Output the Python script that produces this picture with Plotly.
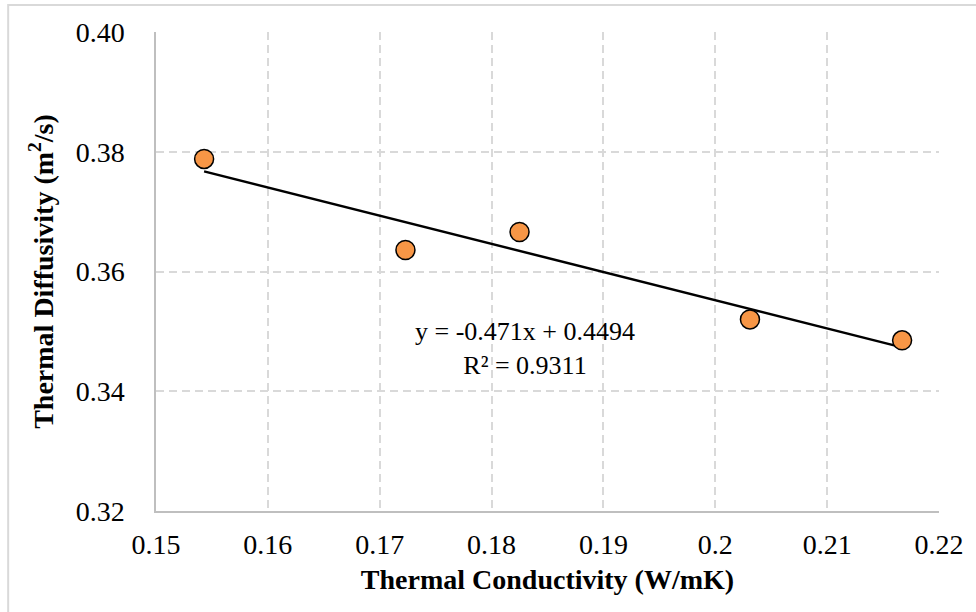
import plotly.graph_objects as go

# Data
conductivity = [0.1543, 0.1723, 0.1825, 0.2031, 0.2167]
diffusivity = [0.3788, 0.3636, 0.3666, 0.3520, 0.3485]
slope = -0.471
intercept = 0.4494
r_squared = 0.9311
x_ticks = [0.15, 0.16, 0.17, 0.18, 0.19, 0.20, 0.21, 0.22]
x_tick_labels = ["0.15", "0.16", "0.17", "0.18", "0.19", "0.2", "0.21", "0.22"]
y_ticks = [0.32, 0.34, 0.36, 0.38, 0.40]
y_tick_labels = ["0.32", "0.34", "0.36", "0.38", "0.40"]

FONT = "Liberation Serif"

x_fit = [min(conductivity), max(conductivity)]
y_fit = [slope * v + intercept for v in x_fit]

fig = go.Figure()
fig.add_trace(go.Scatter(
    x=x_fit, y=y_fit, mode="lines",
    line=dict(color="black", width=2.5),
    showlegend=False, hoverinfo="skip",
))
fig.add_trace(go.Scatter(
    x=conductivity, y=diffusivity, mode="markers",
    marker=dict(size=19, color="#F79646", line=dict(color="black", width=1.5)),
    showlegend=False,
))

fig.add_annotation(
    x=0.1830, y=0.3471, xref="x", yref="y",
    text=f"y = {slope}x + {intercept}<br>R² = {r_squared}",
    showarrow=False, align="center",
    font=dict(family=FONT, size=26, color="black"),
)

# outer chart border (top/left visible in reference)
fig.add_shape(
    type="rect", xref="paper", yref="paper",
    x0=-0.1888, x1=1.06, y0=-0.25, y1=1.0564,
    line=dict(color="#D9D9D9", width=2), layer="below",
)

fig.update_layout(
    width=976, height=612,
    margin=dict(l=156, r=31, t=32, b=101),
    paper_bgcolor="white", plot_bgcolor="white",
    font=dict(family=FONT, color="black"),
)
fig.update_xaxes(
    range=[0.15, 0.22], tickvals=x_ticks, ticktext=x_tick_labels,
    tickfont=dict(family=FONT, size=28, color="black"),
    showgrid=True, gridcolor="#D9D9D9", griddash="8px,5px", gridwidth=1.5,
    showline=True, linecolor="#BFBFBF", linewidth=1.5,
    zeroline=False, ticks="", ticklabelstandoff=8,
    title=dict(text="<b>Thermal Conductivity (W/mK)</b>",
               font=dict(family=FONT, size=28, color="black"), standoff=10),
)
fig.update_yaxes(
    range=[0.32, 0.40], tickvals=y_ticks, ticktext=y_tick_labels,
    tickfont=dict(family=FONT, size=28, color="black"),
    showgrid=True, gridcolor="#D9D9D9", griddash="8px,5px", gridwidth=1.5,
    showline=True, linecolor="#BFBFBF", linewidth=1.5,
    zeroline=False, ticks="", ticklabelstandoff=24,
    title=dict(text="<b>Thermal Diffusivity (m<sup>2</sup>/s)</b>",
               font=dict(family=FONT, size=28, color="black"), standoff=14),
)

fig.write_html("out.html")
